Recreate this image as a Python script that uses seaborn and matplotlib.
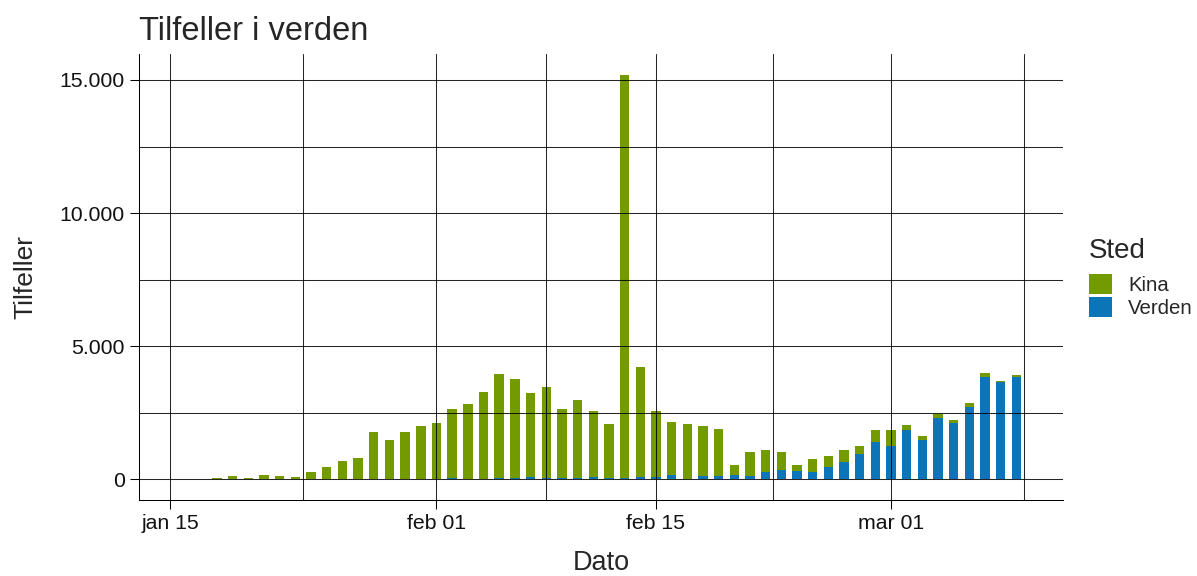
import pandas as pd
import matplotlib.pyplot as plt
import matplotlib.dates as mdates
import seaborn as sns

sns.set_style("white")
plt.rcParams['font.family'] = ['Liberation Sans', 'DejaVu Sans']

# daily new cases, jan 18 - mar 09 2020
datoer = pd.date_range("2020-01-18", "2020-03-09", freq="D")
kina = [45, 140, 45, 148, 137, 100, 262, 445, 670, 780, 1745, 1455, 1740, 1970,
        2080, 2595, 2828, 3248, 3904, 3737, 3155, 3423, 2585, 2953, 2484, 2056,
        15138, 4145, 2480, 2016, 2066, 1890, 1765, 388, 914, 814, 677, 225, 501,
        401, 425, 313, 425, 588, 188, 125, 125, 126, 151, 125, 38, 50]
verden = [0, 0, 1, 2, 3, 5, 8, 15, 10, 20, 25, 20, 20, 30,
          30, 35, 15, 20, 40, 45, 75, 45, 45, 40, 70, 35,
          50, 75, 70, 150, 25, 113, 113, 150, 113, 275, 350, 313, 275,
          463, 664, 939, 1415, 1252, 1853, 1490, 2317, 2116, 2717, 3857, 3669, 3857]
steder = ["Kina", "Verden"]
farger = ["#739B00", "#0B75B7"]

y_ticks = [0, 5000, 10000, 15000]
y_labels = ["0", "5.000", "10.000", "15.000"]
x_ticks = ["2020-01-15", "2020-02-01", "2020-02-15", "2020-03-01"]
x_labels = ["jan 15", "feb 01", "feb 15", "mar 01"]
x_minor = ["2020-01-23 12:00", "2020-02-08 00:00", "2020-02-22 12:00", "2020-03-09 12:00"]

dato_num = mdates.date2num(datoer)
# stacked: Kina sits on top of Verden, so draw the total first
df = pd.concat([
    pd.DataFrame({"Dato": dato_num, "Sted": "Kina",
                  "Tilfeller": [k + v for k, v in zip(kina, verden)]}),
    pd.DataFrame({"Dato": dato_num, "Sted": "Verden", "Tilfeller": verden}),
])

fig, ax = plt.subplots(figsize=(11.97, 5.76), dpi=100)
fig.subplots_adjust(left=0.1161, right=0.8878, bottom=0.1319, top=0.9063)

sns.barplot(data=df, x="Dato", y="Tilfeller", hue="Sted", hue_order=steder,
            palette=farger, dodge=False, native_scale=True, width=0.6,
            errorbar=None, linewidth=0, saturation=1, ax=ax)

jan15 = mdates.date2num(pd.Timestamp("2020-01-15"))
mar01 = mdates.date2num(pd.Timestamp("2020-03-01"))
ax.set_xlim(jan15 - 1.98, mar01 + 10.95)
ax.set_ylim(-778, 15977)

ax.set_xticks(mdates.date2num(pd.to_datetime(x_ticks)))
ax.set_xticklabels(x_labels)
ax.set_xticks(mdates.date2num(pd.to_datetime(x_minor)), minor=True)
ax.set_yticks(y_ticks)
ax.set_yticklabels(y_labels)
ax.set_yticks([2500, 7500, 12500], minor=True)

ax.set_axisbelow(False)
ax.grid(which="both", color="black", linewidth=0.75, alpha=0.85)
ax.tick_params(which="major", length=6.8, width=0.75, color="black", pad=3.5,
               labelsize=15.3, left=True, bottom=True, labelcolor="#111111")
ax.tick_params(which="minor", length=0)
for s in ["top", "right"]:
    ax.spines[s].set_visible(False)
for s in ["left", "bottom"]:
    ax.spines[s].set_color("black")
    ax.spines[s].set_linewidth(0.75)

ax.set_xlabel("Dato", fontsize=19.5, labelpad=12)
ax.set_ylabel("Tilfeller", fontsize=19, labelpad=16)
ax.set_title("Tilfeller i verden", loc="left", fontsize=23.5, pad=10)

handles, labels = ax.get_legend_handles_labels()
ax.legend_.remove()
fig.text(1089 / 1197, 1 - 258 / 576, "Sted", fontsize=20, va="baseline", ha="left")
fig.legend(handles, labels, loc="upper left",
           bbox_to_anchor=(1089 / 1197, 1 - 274 / 576), frameon=False,
           fontsize=14.7, handlelength=1.12, handleheight=1.12,
           labelspacing=0.1, handletextpad=0.8, borderpad=0, borderaxespad=0)

fig.savefig("out.png", dpi=100)
